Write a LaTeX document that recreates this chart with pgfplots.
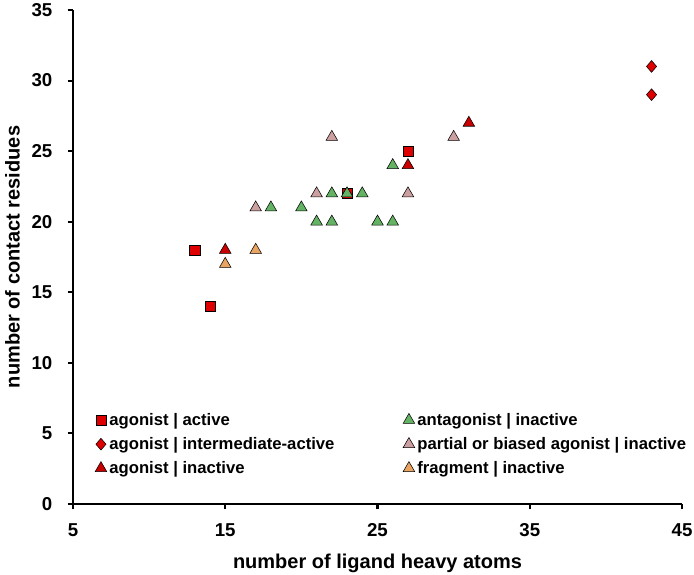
\documentclass[border=0pt]{standalone}
\usepackage{fontspec}
\setmainfont{Liberation Sans}
\usepackage{pgfplots}
\pgfplotsset{compat=1.18}
\definecolor{sqred}{RGB}{222,0,0}
\definecolor{trired}{RGB}{200,0,0}
\definecolor{antgreen}{RGB}{100,178,100}
\definecolor{partpink}{RGB}{204,160,160}
\definecolor{fragorange}{RGB}{232,164,96}
\definecolor{edge}{RGB}{50,20,20}
\begin{document}
\begin{tikzpicture}
\begin{axis}[
  name=ax,
  scale only axis, width=456.75pt, height=370.5pt,
  xmin=5, xmax=45, ymin=0, ymax=35,
  xtick={5,15,25,35,45}, ytick={0,5,...,35},
  axis x line=bottom, axis y line=left,
  axis line style={line width=2.2pt, -},
  tick align=outside, major tick length=4pt,
  tick style={line width=1.6pt, black},
  ticklabel style={font=\fontsize{14}{16}\selectfont\bfseries},
  xticklabel style={yshift=-7pt},
  yticklabel style={xshift=-8pt},
  /pgf/number format/assume math mode=true,
  xlabel={number of ligand heavy atoms},
  ylabel={number of contact residues},
  label style={font=\fontsize{15}{18}\selectfont\bfseries},
  xlabel style={yshift=-6.5pt},
  ylabel style={yshift=2pt},
  legend columns=2,
  legend image code/.code={\draw[mark repeat=2,mark phase=2,#1] plot coordinates {(-3pt,0pt) (0pt,0pt) (3pt,0pt)};},
  legend style={draw=none, fill=none, at={(0.036,0.19)}, anchor=north west,
    font=\fontsize{12.5}{14}\selectfont\bfseries,
    row sep=3.5pt, inner sep=0pt,
    cells={inner xsep=1.5pt},
    /tikz/every even column/.append style={column sep=49.5pt}},
  legend cell align=left,
  every axis plot/.append style={only marks, mark options={draw=edge, line width=0.5pt}},
]
\addplot[mark=square*, mark size=3.8pt, mark options={fill=sqred}] coordinates {(13,18) (14,14) (23,22) (27,25)};
\addlegendentry{agonist | active}
\addplot[mark=triangle*, mark size=5pt, mark options={fill=antgreen}] coordinates {(18,21) (20,21) (21,20) (22,20) (22,22) (23,22) (24,22) (25,20) (26,20) (26,24)};
\addlegendentry{antagonist | inactive}
\addplot[mark=diamond*, mark size=4.4pt, mark options={fill=sqred, xscale=1.15}] coordinates {(43,31) (43,29)};
\addlegendentry{agonist | intermediate-active}
\addplot[mark=triangle*, mark size=5pt, mark options={fill=partpink}] coordinates {(17,21) (21,22) (22,26) (27,22) (30,26)};
\addlegendentry{partial or biased agonist | inactive}
\addplot[mark=triangle*, mark size=5pt, mark options={fill=trired}] coordinates {(15,18) (27,24) (31,27)};
\addlegendentry{agonist | inactive}
\addplot[mark=triangle*, mark size=5pt, mark options={fill=fragorange}] coordinates {(15,17) (17,18)};
\addlegendentry{fragment | inactive}
\end{axis}
\pgfresetboundingbox
\path[use as bounding box] ([shift={(-54.75pt,-52.5pt)}]ax.south west) rectangle ([shift={(9pt,7.5pt)}]ax.north east);
\end{tikzpicture}
\end{document}
